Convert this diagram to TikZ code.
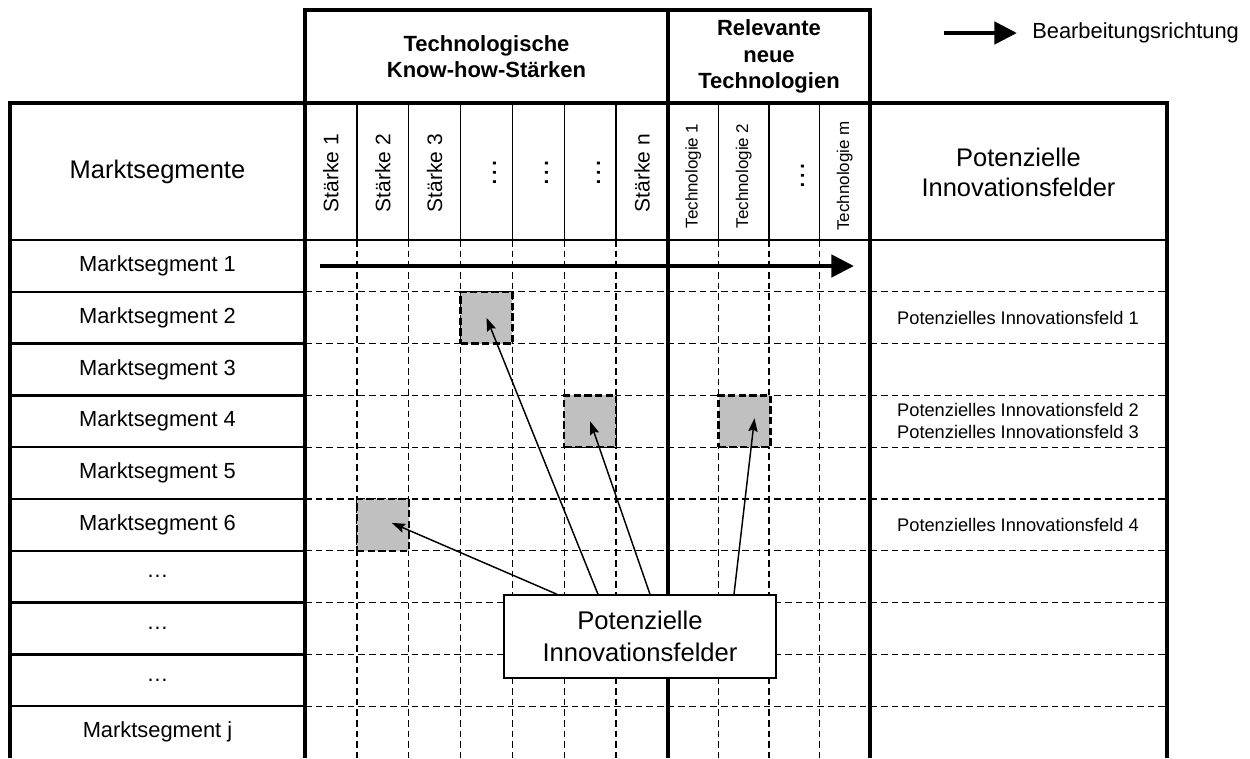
\documentclass[tikz,border=0pt]{standalone}
\usepackage{fontspec}
\setmainfont{Liberation Sans}
\usetikzlibrary{arrows.meta}

\definecolor{fieldgray}{RGB}{192,192,192}

\tikzset{%
  frame/.style={line width=2.4pt},
  head line/.style={line width=1.8pt},
  header sep/.style={line width=1.1pt},
  segment sep/.style={line width=1.7pt},
  grid line/.style={line width=1pt, dash pattern=on 5pt off 3pt},
  field/.style={draw, fill=fieldgray, line width=1.8pt, dash pattern=on 5.5pt off 2.5pt,
    minimum width=38.9pt, minimum height=38.85pt, inner sep=0pt},
  flow/.style={line width=3.6pt, -{Triangle[length=17pt,width=16.5pt]}},
  pointer/.style={line width=1.1pt, -{Stealth[length=10pt,width=7pt,inset=1.5pt]}},
  group head/.style={align=center, font=\bfseries\fontsize{16.5}{20}\selectfont},
  big head/.style={align=center, font=\fontsize{19.1}{22.5}\selectfont},
  segment/.style={font=\fontsize{16.4}{19}\selectfont},
  strength/.style={rotate=90, font=\fontsize{15.75}{19}\selectfont},
  technology/.style={rotate=90, font=\fontsize{12.75}{15}\selectfont},
  gap/.style={xshift=6.4pt, rotate=90, font=\fontsize{22}{22}\selectfont},
  result/.style={align=center, font=\fontsize{13.7}{16.5}\selectfont},
  callout/.style={draw, fill=white, line width=1.1pt, minimum width=204pt,
    minimum height=62.25pt, align=center, font=\fontsize{19.2}{24.5}\selectfont},
}

\begin{document}
\begin{tikzpicture}[x=0.75pt, y=-0.75pt]
  \useasboundingbox (0,0) rectangle (1250,758);

  % draw grid lines
  \foreach \x in {356.9,408.7,460.6,512.4,564.3,616.1,718.5,769,819.5}
  {
    \draw [header sep] (\x,103) -- (\x,240);
    \draw [grid line] (\x,240) -- (\x,758);
  }
  \foreach \k in {1,...,9}
  {
    \draw [segment sep] (10,240+51.8*\k) -- (305,240+51.8*\k);
    \draw [grid line] (305,240+51.8*\k) -- (1167,240+51.8*\k);
  }

  % draw frame
  \draw [head line] (10,240) -- (1167,240);
  \draw [frame] (10,758) -- (10,103) -- (1167,103) -- (1167,758);
  \draw [frame] (305,758) -- (305,10) -- (870,10) -- (870,758);
  \draw [frame] (668,10) -- (668,758);

  % draw headers
  \node [group head] (know-how) at (486.5,56.5) {Technologische\\Know-how-Stärken};
  \node [group head] (new-tech) at (769,56.5) {Relevante\\neue\\Technologien};
  \node [big head] (segments) at (157.5,171.5) {Marktsegmente};
  \node [big head] (fields) at (1018.5,172) {Potenzielle\\Innovationsfelder};

  \foreach \l/\s [count=\i] in {Stärke 1/strength,Stärke 2/strength,Stärke 3/strength,
      \dots/gap,\dots/gap,\dots/gap,Stärke n/strength}
    \node [\s] (strength-\i) at (279.07+51.86*\i,173) {\l};
  \foreach \l/\s [count=\i] in {Technologie 1/technology,Technologie 2/technology,
      \dots/gap,Technologie m/technology}
    \node [\s] (tech-\i) at (642.75+50.5*\i,176) {\l};

  % draw market segments
  \foreach \l [count=\i] in {Marktsegment 1,Marktsegment 2,Marktsegment 3,Marktsegment 4,
      Marktsegment 5,Marktsegment 6,\dots,\dots,\dots,Marktsegment j}
    \node [segment] (segment-\i) at (157.5,214.1+51.8*\i) {\l};

  % potential fields in the matrix
  \node [field] (field-1) at (486.5,317.7) {};
  \node [field] (field-2) at (590.2,421.3) {};
  \node [field] (field-3) at (744.5,421.3) {};
  \node [field] (field-4) at (382.8,524.9) {};

  % results column
  \node [result] (result-1) at (1018,317.7) {Potenzielles Innovationsfeld 1};
  \node [result] (result-2) at (1018,421.3) {Potenzielles Innovationsfeld 2\\Potenzielles Innovationsfeld 3};
  \node [result] (result-4) at (1018,524.9) {Potenzielles Innovationsfeld 4};

  % direction of work
  \coordinate (flow-start) at (320,266);
  \coordinate (flow-end) at (854,266);
  \draw [flow] (flow-start) -- (flow-end);

  \coordinate (legend-start) at (944,33);
  \node [segment, anchor=west, inner sep=0pt] (legend) at (1032,33) {Bearbeitungsrichtung};
  \draw [flow] (legend-start) -- ([xshift=-11.25pt]legend.west);

  % callout with pointers
  \node [callout] (callout) at (640,636.5) {Potenzielle\\Innovationsfelder};
  \draw [pointer] ([xshift=-31.5pt]callout.north) -- (field-1.center);
  \draw [pointer] ([xshift=7.5pt]callout.north) -- (field-2.center);
  \draw [pointer] ([xshift=70.5pt]callout.north) -- ([xshift=7.5pt,yshift=2.25pt]field-3.center);
  \draw [pointer] ([xshift=-62.25pt]callout.north) -- ([xshift=6.75pt,yshift=1.5pt]field-4.center);

\end{tikzpicture}
\end{document}
